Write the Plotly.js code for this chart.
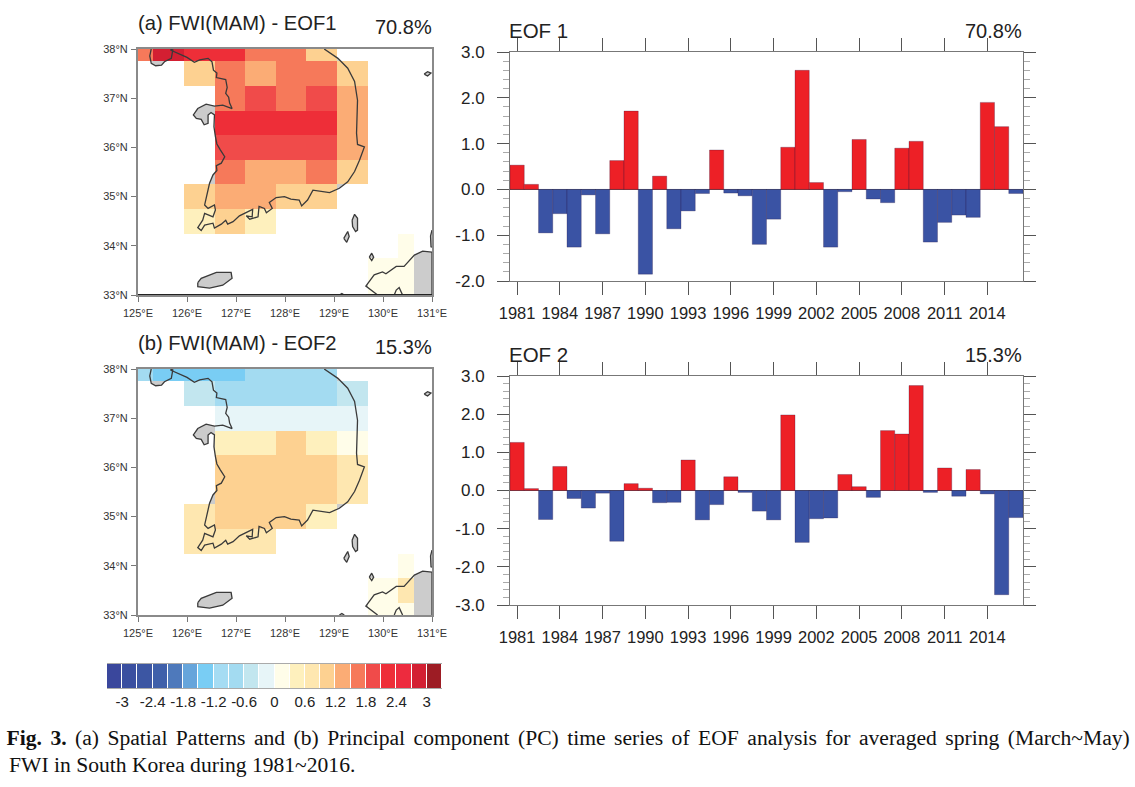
<!DOCTYPE html>
<html><head><meta charset="utf-8">
<script src="https://cdn.plot.ly/plotly-3.0.1.min.js"></script>
<style>html,body{margin:0;padding:0;background:#fff}#g{width:1135px;height:787px}
g.annotation[data-index="8"] text{word-spacing:3.05px}</style></head>
<body><div id="g"></div>
<script>
var n = null;
var years = [1981,1982,1983,1984,1985,1986,1987,1988,1989,1990,1991,1992,1993,1994,1995,1996,1997,1998,1999,2000,2001,2002,2003,2004,2005,2006,2007,2008,2009,2010,2011,2012,2013,2014,2015,2016];
var pc1 = [0.53,0.11,-0.95,-0.53,-1.26,-0.12,-0.97,0.63,1.71,-1.85,0.29,-0.86,-0.47,-0.09,0.86,-0.08,-0.14,-1.2,-0.65,0.92,2.6,0.15,-1.26,-0.05,1.09,-0.21,-0.29,0.9,1.05,-1.15,-0.72,-0.56,-0.61,1.9,1.37,-0.09];
var pc2 = [1.26,0.05,-0.76,0.63,-0.21,-0.46,-0.07,-1.33,0.18,0.06,-0.32,-0.31,0.8,-0.77,-0.37,0.36,-0.05,-0.54,-0.77,1.98,-1.36,-0.74,-0.72,0.42,0.1,-0.18,1.57,1.48,2.75,-0.05,0.59,-0.15,0.55,-0.09,-2.73,-0.71];
var yearTicks = [1981,1984,1987,1990,1993,1996,1999,2002,2005,2008,2011,2014];

var lonEdges = [125,125.3125,125.9375,126.5625,127.1875,127.8125,128.4375,129.0625,129.6875,130.3125,130.625];
var latEdges = [33,33.25,33.75,34.25,34.75,35.25,35.75,36.25,36.75,37.25,37.75,38];
var eof1 = [
 [n,n,n,n,n,n,n,n,.15,.15],
 [n,n,n,n,n,n,n,n,.15,.15],
 [n,n,n,n,n,n,n,n,n,.15],
 [n,n,.45,1.05,.45,n,n,n,n,n],
 [n,n,1.05,1.35,1.35,1.05,1.05,n,n,n],
 [n,n,n,1.65,1.35,1.35,1.65,1.05,n,n],
 [n,n,n,1.95,1.95,1.95,1.95,1.35,n,n],
 [n,n,n,2.25,2.25,2.25,2.25,1.35,n,n],
 [n,n,n,1.65,1.95,1.65,1.95,1.35,n,n],
 [n,n,1.05,1.65,1.35,1.65,1.65,1.05,n,n],
 [1.65,2.85,2.25,2.25,1.65,1.65,1.05,n,n,n]];
var eof2 = [
 [n,n,n,n,n,n,n,n,.15,.15],
 [n,n,n,n,n,n,n,n,.15,.75],
 [n,n,n,n,n,n,n,n,n,.15],
 [n,n,.75,.75,.75,n,n,n,n,n],
 [n,n,.75,1.05,1.05,1.05,.45,n,n,n],
 [n,n,n,1.05,1.05,1.05,1.05,.75,n,n],
 [n,n,n,1.05,1.05,1.05,1.05,.75,n,n],
 [n,n,n,.45,.45,1.05,.45,.15,n,n],
 [n,n,n,-.15,-.15,-.15,-.15,-.15,n,n],
 [n,n,-.45,-.75,-.75,-.75,-.75,-.45,n,n],
 [-.75,-1.35,-1.35,-1.35,-.75,-.75,-.75,n,n,n]];

var coastLon = [125.27,125.24,125.27,125.36,125.48,125.54,125.68,125.71,125.66,n,
 125.66,125.85,126.00,126.15,126.26,126.43,126.51,126.54,126.61,126.60,126.79,126.82,126.79,126.85,126.87,126.92,126.73,126.56,126.39,126.22,126.13,126.19,126.29,126.35,126.43,126.43,126.49,126.56,126.55,126.58,126.61,126.68,126.77,126.70,126.60,126.61,126.53,126.46,126.43,126.39,126.36,126.43,126.56,126.58,126.53,126.36,126.32,126.22,126.29,126.36,126.53,126.56,126.70,126.79,126.83,126.94,127.07,127.34,127.33,127.21,127.28,127.45,127.47,127.58,127.62,127.74,127.68,127.82,127.99,128.12,128.29,128.34,128.46,128.57,128.74,128.91,129.11,129.28,129.42,129.52,129.62,129.48,129.46,129.48,129.42,129.28,129.08,128.80,n,
 126.22,126.29,126.60,126.90,126.92,126.73,126.46,126.22,126.22,n,
 130.84,130.91,130.98,130.91,130.84,n,
 129.37,129.42,129.48,129.48,129.44,129.38,129.37,n,
 129.20,129.28,129.31,129.26,129.20,n,
 129.72,129.77,129.81,129.77,129.72,n,
 129.89,129.65,129.82,129.99,130.06,130.27,130.43,130.64,130.81,131,131,n,
 130.23,130.27,130.33,130.40,n,
 131,130.97,130.98,131,n,
 129.11,129.16,129.21];
var coastLat = [38,37.86,37.71,37.66,37.67,37.74,37.81,37.98,38,n,
 37.98,37.90,37.83,37.73,37.78,37.81,37.74,37.57,37.51,37.42,37.38,37.22,37.10,37.02,36.90,36.79,36.86,36.84,36.88,36.79,36.66,36.59,36.57,36.46,36.49,36.66,36.71,36.66,36.42,36.22,36.07,35.95,35.81,35.68,35.63,35.53,35.44,35.27,35.13,34.93,34.83,34.76,34.83,34.73,34.59,34.66,34.52,34.37,34.31,34.42,34.46,34.36,34.44,34.52,34.44,34.49,34.61,34.74,34.59,34.61,34.54,34.59,34.80,34.76,34.67,34.76,34.88,34.98,35.00,34.95,34.93,34.81,34.93,35.13,35.11,35.08,35.17,35.30,35.51,35.74,36.01,36.06,36.29,36.96,37.34,37.61,37.81,38,n,
 33.25,33.34,33.46,33.46,33.34,33.20,33.14,33.17,33.25,n,
 37.49,37.54,37.51,37.45,37.49,n,
 34.52,34.64,34.56,34.32,34.29,34.39,34.52,n,
 34.15,34.29,34.19,34.07,34.15,n,
 33.77,33.85,33.77,33.70,33.77,n,
 33,33.18,33.41,33.47,33.43,33.58,33.58,33.81,33.89,33.87,33,n,
 33,33.10,33.15,33,n,
 34.32,34.2,33.98,33.97,n,
 33,33.03,33];
var southEdgeLon = [125,131];
var southEdgeLat = [33,33];

var levelMids = [-3.15,-2.85,-2.55,-2.25,-1.95,-1.65,-1.35,-1.05,-0.75,-0.45,-0.15,0.15,0.45,0.75,1.05,1.35,1.65,1.95,2.25,2.55,2.85,3.15];
var levelEdges = [-3.3,-3,-2.7,-2.4,-2.1,-1.8,-1.5,-1.2,-0.9,-0.6,-0.3,0,0.3,0.6,0.9,1.2,1.5,1.8,2.1,2.4,2.7,3,3.3];
var levelColors = ['#3A479C','#3A4FA0','#3C56A3','#3F60AA','#4E79BB','#66A5DB','#79CDF4','#A5DCF3','#A3DBF1','#C2E6EF','#E7F5F8','#FFFDE9','#FEF0BD','#FEE7B0','#FDD191','#FBAC75','#F6795A','#F04B4A','#EE2E38','#ED2B3E','#D31F32','#9D1C24'];
var cbarTicks = [-3,-2.4,-1.8,-1.2,-0.6,0,0.6,1.2,1.8,2.4,3];
var cbarLabels = ['-3','-2.4','-1.8','-1.2','-0.6','0','0.6','1.2','1.8','2.4','3'];
var lonTicks = [125,126,127,128,129,130,131];
var lonLabels = ['125°E','126°E','127°E','128°E','129°E','130°E','131°E'];
var latTicks = [33,34,35,36,37,38];
var latLabels = ['33°N','34°N','35°N','36°N','37°N','38°N'];

var W = 1135, H = 787;
function dx(a,b){return [a/W,b/W];}
function dy(top,bot){return [1-bot/H,1-top/H];}
var scale = [];
levelColors.forEach(function(c,i){scale.push([i/22,c]);scale.push([(i+1)/22,c]);});
var RED='#ED2026', BLUE='#3A53A4', FONT='"Liberation Sans", Arial, sans-serif';

function mapTraces(z,xb,yb,xo,yo){
 return [
  {type:'scatter',mode:'lines',x:coastLon,y:coastLat,xaxis:xb,yaxis:yb,fill:'toself',fillcolor:'#CCCCCC',line:{width:0},hoverinfo:'skip',showlegend:false},
  {type:'heatmap',x:lonEdges,y:latEdges,z:z,xaxis:xo,yaxis:yo,colorscale:scale,zmin:-3.3,zmax:3.3,showscale:false,hoverongaps:false},
  {type:'scatter',mode:'lines',x:coastLon,y:coastLat,xaxis:xo,yaxis:yo,line:{color:'#3a3a3a',width:1.3},hoverinfo:'skip',showlegend:false}
 ];
}
function barTrace(v,xa,ya){
 return {type:'bar',x:years,y:v,xaxis:xa,yaxis:ya,width:1,showlegend:false,
  marker:{color:v.map(function(d){return d>=0?RED:BLUE;}),line:{color:'rgba(40,20,60,0.45)',width:0.6}}};
}
var data = mapTraces(eof1,'x','y','x2','y2')
 .concat([{type:'scatter',mode:'lines',x:southEdgeLon,y:southEdgeLat,xaxis:'x2',yaxis:'y2',cliponaxis:false,line:{color:'#222',width:2},hoverinfo:'skip',showlegend:false}])
 .concat(mapTraces(eof2,'x3','y3','x4','y4'))
 .concat([barTrace(pc1,'x5','y5'),barTrace(pc2,'x6','y6'),
 {type:'heatmap',x:levelEdges,y:[0,1],z:[levelMids],xaxis:'x7',yaxis:'y7',colorscale:scale,zmin:-3.3,zmax:3.3,showscale:false,xgap:1}]);

function hiddenAx(o){return Object.assign({visible:false,fixedrange:true},o);}
function mapX(dom,anchor,over){return {domain:dom,anchor:anchor,overlaying:over,range:[125,131],tickmode:'array',tickvals:lonTicks,ticktext:lonLabels,ticks:'outside',ticklen:5,tickwidth:1,tickcolor:'#777',tickfont:{family:FONT,size:11,color:'#333'},showline:true,linecolor:'#8a8a8a',linewidth:2,mirror:true,showgrid:false,zeroline:false,ticklabelstandoff:2};}
function mapY(dom,anchor,over){return {domain:dom,anchor:anchor,overlaying:over,range:[33,38],tickmode:'array',tickvals:latTicks,ticktext:latLabels,ticks:'outside',ticklen:5,tickwidth:1,tickcolor:'#777',tickfont:{family:FONT,size:11,color:'#333'},showline:true,linecolor:'#8a8a8a',linewidth:2,mirror:true,showgrid:false,zeroline:false,ticklabelstandoff:1};}
function barX(dom,anchor){return {domain:dom,anchor:anchor,range:[1980.5,2016.5],tickmode:'array',tickvals:yearTicks,ticktext:yearTicks.map(String),ticks:'outside',ticklen:13,tickwidth:1,tickcolor:'#555',tickfont:{family:FONT,size:16.5,color:'#222'},showline:true,linecolor:'#777',linewidth:1,mirror:'ticks',showgrid:false,zeroline:false,ticklabelstandoff:4};}
function barY(dom,anchor,lo,vals,txt){return {domain:dom,anchor:anchor,range:[lo,3],tickmode:'array',tickvals:vals,ticktext:txt,ticks:'outside',ticklen:12,tickwidth:1,tickcolor:'#555',tickfont:{family:FONT,size:17,color:'#222'},showline:true,linecolor:'#777',linewidth:1,mirror:'ticks',showgrid:false,zeroline:true,zerolinecolor:'#555',zerolinewidth:1,ticklabelstandoff:9,
 minor:{dtick:0.2,ticks:'outside',ticklen:6,tickcolor:'#aaa',tickwidth:1,showgrid:false}};}

var mxd=dx(138,432), yA=dy(49,295), yB=dy(369,615), bxd=dx(510,1023), y1=dy(52,281), y2=dy(376,605);
function txt(x,y,t,size,anchor,fam,col){return {xref:'paper',yref:'paper',x:x/W,y:1-y/H,text:t,showarrow:false,xanchor:anchor||'left',yanchor:'middle',font:{family:fam||FONT,size:size,color:col||'#222'}};}
var SERIF='"Liberation Serif","Times New Roman",serif';
var layout = {
 width:W,height:H,margin:{l:0,r:0,t:0,b:0},paper_bgcolor:'#fff',plot_bgcolor:'#fff',showlegend:false,bargap:0,
 xaxis:hiddenAx({domain:mxd,anchor:'y',range:[125,131]}),
 yaxis:hiddenAx({domain:yA,anchor:'x',range:[33,38]}),
 xaxis2:mapX(mxd,'y2','x'),
 yaxis2:mapY(yA,'x2','y'),
 xaxis3:hiddenAx({domain:mxd,anchor:'y3',range:[125,131]}),
 yaxis3:hiddenAx({domain:yB,anchor:'x3',range:[33,38]}),
 xaxis4:mapX(mxd,'y4','x3'),
 yaxis4:mapY(yB,'x4','y3'),
 xaxis5:barX(bxd,'y5'),
 yaxis5:barY(y1,'x5',-2,[-2,-1,0,1,2,3],['-2.0','-1.0','0.0','1.0','2.0','3.0']),
 xaxis6:barX(bxd,'y6'),
 yaxis6:barY(y2,'x6',-3,[-3,-2,-1,0,1,2,3],['-3.0','-2.0','-1.0','0.0','1.0','2.0','3.0']),
 xaxis7:{domain:dx(107,442),anchor:'y7',range:[-3.3,3.3],tickmode:'array',tickvals:cbarTicks,ticktext:cbarLabels,ticks:'',tickfont:{family:FONT,size:15,color:'#222'},showline:true,linecolor:'#aaa',mirror:true,showgrid:false,zeroline:false,ticklabelstandoff:0},
 yaxis7:{domain:dy(664,688),anchor:'x7',range:[0,1],visible:false,showgrid:false},
 annotations:[
  txt(135.5,23,'(a) FWI(MAM) - EOF1',20.2),
  txt(434,27,'70.8%',20,'right'),
  txt(135.5,343,'(b) FWI(MAM) - EOF2',20.2),
  txt(434,347,'15.3%',20,'right'),
  txt(507,31,'EOF 1',20.5),
  txt(1024,31,'70.8%',20,'right'),
  txt(507,355,'EOF 2',20.5),
  txt(1024,355,'15.3%',20,'right'),
  txt(32,738,'<b>Fig. 3.</b> (a) Spatial Patterns and (b) Principal component (PC) time series of EOF analysis for averaged spring (March~May)',21.6,'left',SERIF,'#111'),
  txt(7,765,'FWI in South Korea during 1981~2016.',21.6,'left',SERIF,'#111')
 ]
};
Plotly.newPlot('g',data,layout,{displayModeBar:false,staticPlot:true});
</script></body></html>
